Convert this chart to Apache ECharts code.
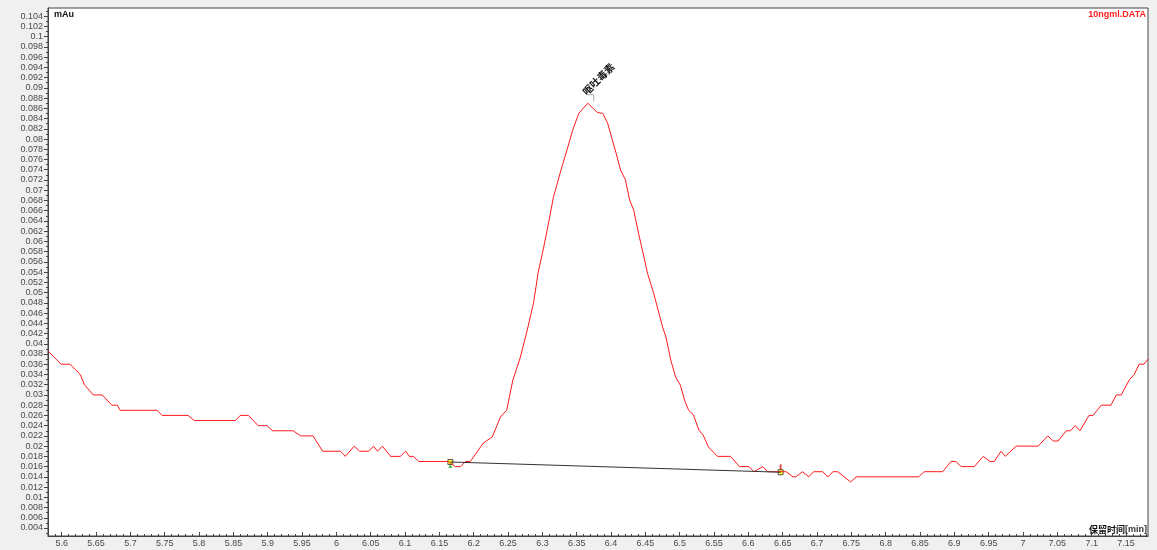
<!DOCTYPE html>
<html>
<head>
<meta charset="utf-8">
<script src="https://cdn.jsdelivr.net/npm/echarts@6/dist/echarts.min.js"></script>
<style>
html,body{margin:0;padding:0;background:#f0f0f0;}
#c{width:1157px;height:550px;}
</style>
</head>
<body>
<div id="c"></div>
<script>
// retention time (min)
var times = [5.580,5.599,5.612,5.627,5.633,5.646,5.659,5.673,5.681,5.685,5.739,5.746,5.784,5.793,5.853,5.860,5.872,5.886,5.899,5.907,5.937,5.948,5.966,5.980,6.006,6.013,6.026,6.034,6.047,6.054,6.060,6.067,6.079,6.093,6.101,6.106,6.112,6.120,6.163,6.173,6.181,6.188,6.195,6.214,6.227,6.239,6.248,6.257,6.268,6.278,6.287,6.294,6.302,6.309,6.316,6.327,6.337,6.344,6.353,6.366,6.380,6.388,6.395,6.407,6.414,6.421,6.427,6.433,6.440,6.448,6.453,6.462,6.475,6.480,6.487,6.494,6.501,6.507,6.513,6.520,6.528,6.534,6.542,6.555,6.574,6.587,6.601,6.608,6.621,6.628,6.643,6.655,6.665,6.669,6.679,6.688,6.695,6.708,6.716,6.723,6.730,6.749,6.757,6.848,6.856,6.883,6.895,6.902,6.910,6.929,6.942,6.952,6.958,6.968,6.974,6.990,7.022,7.036,7.044,7.051,7.063,7.069,7.076,7.083,7.096,7.102,7.114,7.128,7.136,7.143,7.155,7.162,7.169,7.176,7.182];
// signal (mAu)
var signal = [0.0386,0.036,0.036,0.034,0.032,0.030,0.030,0.028,0.028,0.027,0.027,0.026,0.026,0.025,0.025,0.026,0.026,0.024,0.024,0.023,0.023,0.022,0.022,0.019,0.019,0.018,0.020,0.019,0.019,0.020,0.019,0.020,0.018,0.018,0.019,0.018,0.018,0.017,0.017,0.016,0.016,0.017,0.017,0.0206,0.0218,0.0257,0.027,0.0329,0.0374,0.0427,0.0479,0.054,0.0589,0.0636,0.0686,0.0739,0.0784,0.0817,0.085,0.087,0.0852,0.085,0.0831,0.0774,0.0739,0.072,0.0681,0.0661,0.0616,0.0569,0.0538,0.0499,0.0433,0.0413,0.0368,0.0335,0.0319,0.029,0.027,0.0261,0.0231,0.0222,0.0198,0.018,0.018,0.016,0.016,0.015,0.016,0.015,0.015,0.015,0.014,0.014,0.015,0.014,0.015,0.015,0.014,0.015,0.015,0.013,0.014,0.014,0.015,0.015,0.017,0.017,0.016,0.016,0.018,0.017,0.017,0.019,0.018,0.020,0.020,0.022,0.021,0.021,0.023,0.023,0.024,0.023,0.026,0.026,0.028,0.028,0.030,0.030,0.033,0.034,0.036,0.036,0.037];
// integration baseline (start, end)
var baseTimes = [6.166, 6.647];
var baseValues = [0.0169, 0.0149];
// peak
var peakName = '呕吐毒素';
var peakTime = 6.366;
var peakValue = 0.087;
// tick labels
var xTickLabels = [5.6,5.65,5.7,5.75,5.8,5.85,5.9,5.95,6,6.05,6.1,6.15,6.2,6.25,6.3,6.35,6.4,6.45,6.5,6.55,6.6,6.65,6.7,6.75,6.8,6.85,6.9,6.95,7,7.05,7.1,7.15];
var yTickLabels = [0.004,0.006,0.008,0.01,0.012,0.014,0.016,0.018,0.02,0.022,0.024,0.026,0.028,0.03,0.032,0.034,0.036,0.038,0.04,0.042,0.044,0.046,0.048,0.05,0.052,0.054,0.056,0.058,0.06,0.062,0.064,0.066,0.068,0.07,0.072,0.074,0.076,0.078,0.08,0.082,0.084,0.086,0.088,0.09,0.092,0.094,0.096,0.098,0.1,0.102,0.104];
var xMin = 5.58, xMax = 7.182, yMin = 0.00244, yMax = 0.1056;

var xMinor = [];
for (var i = 558; i <= 718; i++) xMinor.push(i / 100);
var yMinor = [];
for (var j = 3; j <= 105; j++) yMinor.push(j / 1000);

var lineData = times.map(function (t, k) { return [t, signal[k]]; });
var baseData = baseTimes.map(function (t, k) { return [t, baseValues[k]]; });

var labelFont = {fontFamily: 'Liberation Sans, Arial, sans-serif', fontSize: 9, color: '#4a4a4a'};

var chart = echarts.init(document.getElementById('c'), null, {renderer: 'canvas'});
chart.setOption({
  animation: false,
  backgroundColor: '#f0f0f0',
  title: [
    {text: 'mAu', left: 54, top: 10, padding: 0,
     textStyle: {fontFamily: 'Liberation Sans, Arial, sans-serif', fontSize: 9, fontWeight: 'bold', color: '#111'}},
    {text: '10ngml.DATA', right: 11, top: 10, padding: 0,
     textStyle: {fontFamily: 'Liberation Sans, Arial, sans-serif', fontSize: 9, fontWeight: 'bold', color: '#ff2020'}},
    {text: '{b|保留时间}{n|[min]}', right: 10, bottom: 16, padding: 0,
     textStyle: {rich: {
       b: {fontFamily: 'Noto Sans CJK SC', fontSize: 9, fontWeight: 'bold', color: '#111'},
       n: {fontFamily: 'Liberation Sans, Arial, sans-serif', fontSize: 9, color: '#333'}
     }}}
  ],
  grid: {left: 48, right: 9, top: 8, bottom: 14, show: true, backgroundColor: '#ffffff', borderColor: '#444', borderWidth: 1},
  xAxis: [
    {type: 'value', min: xMin, max: xMax, position: 'bottom',
     axisLine: {show: true, onZero: false, lineStyle: {color: '#444'}},
     axisTick: {show: true, inside: true, length: 4, customValues: xTickLabels, lineStyle: {color: '#444'}},
     axisLabel: Object.assign({show: true, margin: 3, customValues: xTickLabels}, labelFont),
     splitLine: {show: false}},
    {type: 'value', min: xMin, max: xMax, position: 'bottom',
     axisLine: {show: false},
     axisTick: {show: true, inside: true, length: 2, customValues: xMinor, lineStyle: {color: '#444'}},
     axisLabel: {show: false}, splitLine: {show: false}}
  ],
  yAxis: [
    {type: 'value', min: yMin, max: yMax, position: 'left',
     axisLine: {show: true, onZero: false, lineStyle: {color: '#444'}},
     axisTick: {show: true, inside: false, length: 4, customValues: yTickLabels, lineStyle: {color: '#444'}},
     axisLabel: Object.assign({show: true, margin: 5, customValues: yTickLabels}, labelFont),
     splitLine: {show: false}},
    {type: 'value', min: yMin, max: yMax, position: 'left',
     axisLine: {show: false},
     axisTick: {show: true, inside: false, length: 2, customValues: yMinor, lineStyle: {color: '#444'}},
     axisLabel: {show: false}, splitLine: {show: false}}
  ],
  series: [
    {type: 'line', data: lineData, showSymbol: false, symbol: 'none', silent: true,
     lineStyle: {color: '#ff1a1a', width: 1},
     markPoint: {
       symbol: 'path://M0,0 L6,0 L6,7', symbolSize: [6, 7], symbolOffset: [3, -5],
       itemStyle: {color: 'rgba(0,0,0,0)', borderColor: '#aaaaaa', borderWidth: 1},
       data: [{coord: [peakTime, peakValue], value: peakName}],
       label: {show: true, position: 'inside', formatter: peakName, rotate: 45, align: 'center', verticalAlign: 'middle',
               offset: [19, -8], fontFamily: 'Noto Sans CJK SC', fontWeight: 'bold', fontSize: 10, color: '#111'}
     }},
    {type: 'line', data: baseData, showSymbol: false, symbol: 'none', silent: true,
     lineStyle: {color: '#333', width: 1}},
    {type: 'scatter', data: [baseData[0]], symbol: 'triangle', symbolSize: 4, symbolOffset: [0, 4], silent: true,
     itemStyle: {color: '#22aa22'}},
    {type: 'scatter', data: [baseData[1]], symbol: 'rect', symbolSize: [2, 6], symbolOffset: [0, -5], silent: true,
     itemStyle: {color: '#dd2222'}},
    {type: 'scatter', data: baseData, symbol: 'rect', symbolSize: 5, silent: true,
     itemStyle: {color: '#ffff00', borderColor: '#333', borderWidth: 1}}
  ]
});
</script>
</body>
</html>
